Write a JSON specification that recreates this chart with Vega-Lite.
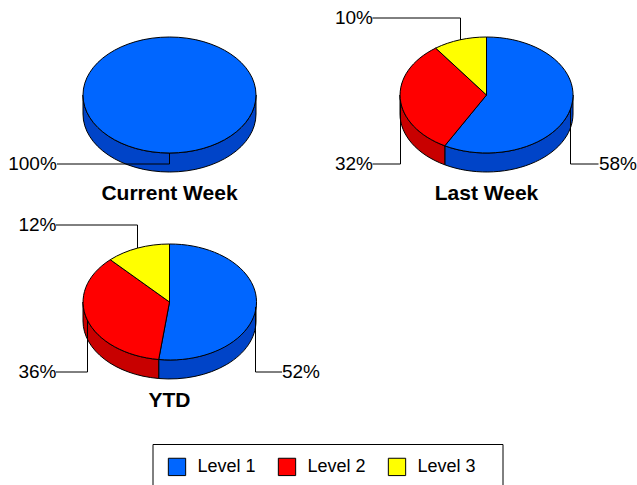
{
"$schema":"https://vega.github.io/schema/vega-lite/v6.json",
"background":"white",
"padding":{"left":7.5,"top":7,"right":0,"bottom":0},
"autosize":{"type":"pad"},
"config":{"view":{"stroke":null},"font":"Liberation Sans"},
"data":{"values":[
{"chart":"Current Week","level":"Level 1","pct":100},
{"chart":"Last Week","level":"Level 1","pct":58},
{"chart":"Last Week","level":"Level 2","pct":32},
{"chart":"Last Week","level":"Level 3","pct":10},
{"chart":"YTD","level":"Level 1","pct":52},
{"chart":"YTD","level":"Level 2","pct":36},
{"chart":"YTD","level":"Level 3","pct":12}
]},
"columns":2,
"bounds":"flush",
"spacing":{"row":31,"column":17},
"facet":{"field":"chart","type":"nominal","sort":["Current Week","Last Week","YTD"],
"header":{"title":null,"labelOrient":"bottom","labelFontSize":21,"labelFontWeight":"bold","labelColor":"black","labelPadding":0,"labelFont":"Liberation Sans"}},
"spec":{
"width":300,"height":176,
"layer":[
{"encoding":{"shape":{"field":"key","type":"nominal","legend":null,"scale":{
"domain":["side|Current Week|Level 1","side|Last Week|Level 1","side|Last Week|Level 2","side|YTD|Level 1","side|YTD|Level 2",
"top|Current Week|Level 1","top|Last Week|Level 1","top|Last Week|Level 2","top|Last Week|Level 3","top|YTD|Level 1","top|YTD|Level 2","top|YTD|Level 3",
"line|Current Week|Level 1","line|Last Week|Level 1","line|Last Week|Level 2","line|Last Week|Level 3","line|YTD|Level 1","line|YTD|Level 2","line|YTD|Level 3"],
"range":[
"M86.5,0 A86.5,58 0 0 1 -86.5,0 V19 A86.5,58 0 0 0 86.5,19 Z",
"M86.5,0 A86.5,58 0 0 1 -41.7,50.8 V69.8 A86.5,58 0 0 0 86.5,19 Z",
"M-41.7,50.8 A86.5,58 0 0 1 -86.5,0 V19 A86.5,58 0 0 0 -41.7,69.8 Z",
"M86.5,0 A86.5,58 0 0 1 -10.8,57.5 V76.5 A86.5,58 0 0 0 86.5,19 Z",
"M-10.8,57.5 A86.5,58 0 0 1 -86.5,0 V19 A86.5,58 0 0 0 -10.8,76.5 Z",
"M-86.5,0 A86.5,58 0 1 1 86.5,0 A86.5,58 0 1 1 -86.5,0 Z",
"M0,0 L0,-58 A86.5,58 0 1 1 -41.7,50.8 Z",
"M0,0 L-41.7,50.8 A86.5,58 0 0 1 -50.8,-46.9 Z",
"M0,0 L-50.8,-46.9 A86.5,58 0 0 1 0,-58 Z",
"M0,0 L0,-58 A86.5,58 0 1 1 -10.8,57.5 Z",
"M0,0 L-10.8,57.5 A86.5,58 0 0 1 -59.2,-42.3 Z",
"M0,0 L-59.2,-42.3 A86.5,58 0 0 1 0,-58 Z",
"M-112.5,69 H0 V58",
"M112,69 H84 V14",
"M-114,69 H-86 V5",
"M-114,-77 H-26 V-55",
"M112.5,70 H86 V5",
"M-113.5,70 H-82 V18",
"M-113.5,-77 H-32 V-54"
]}}},
"layer":[
{"transform":[{"filter":"datum.level !== 'Level 3'"},{"calculate":"'side|' + datum.chart + '|' + datum.level","as":"key"}],
"mark":{"type":"point","filled":true,"opacity":1,"size":4,"stroke":"black","strokeWidth":1},
"encoding":{"color":{"field":"level","type":"nominal","legend":null,"scale":{"domain":["Level 1","Level 2"],"range":["#0044C8","#C80000"]}}}},
{"transform":[{"calculate":"'top|' + datum.chart + '|' + datum.level","as":"key"}],
"mark":{"type":"point","filled":true,"opacity":1,"size":4,"stroke":"black","strokeWidth":1},
"encoding":{"fill":{"field":"level","type":"nominal",
"scale":{"domain":["Level 1","Level 2","Level 3"],"range":["#0066FF","#FF0000","#FFFF00"]},
"legend":{"orient":"none","legendX":133,"legendY":437,"direction":"horizontal","columns":3,"title":"\u00a0","titleOrient":"right","titlePadding":14,"titleFontSize":6,"symbolType":"square","symbolSize":300,"symbolStrokeColor":"black","symbolStrokeWidth":1,"symbolOpacity":1,"labelFontSize":18,"labelColor":"black","labelFont":"Liberation Sans","labelOffset":11,"columnPadding":19,"padding":13,"symbolOffset":2,"strokeColor":"black","fillColor":"white","labelLimit":200}}}},
{"transform":[{"calculate":"'line|' + datum.chart + '|' + datum.level","as":"key"}],
"mark":{"type":"point","filled":false,"opacity":1,"size":4,"stroke":"black","strokeWidth":1}}
]},
{"transform":[{"calculate":"datum.pct + '%'","as":"label"}],
"mark":{"type":"text","fontSize":19,"font":"Liberation Sans","color":"black","align":"center","baseline":"middle"},
"encoding":{
"text":{"field":"label","type":"nominal"},
"x":{"field":"pct","type":"quantitative","axis":null,"scale":{"type":"linear","zero":false,"nice":false,"domain":[10,12,32,36,52,58,100],"range":[17.5,18,17.5,18,281.5,281.5,13]}},
"y":{"field":"pct","type":"quantitative","axis":null,"scale":{"type":"linear","zero":false,"nice":false,"domain":[10,12,32,36,52,58,100],"range":[11,11,157,158,158,157,157]}}
}}
]}
}
